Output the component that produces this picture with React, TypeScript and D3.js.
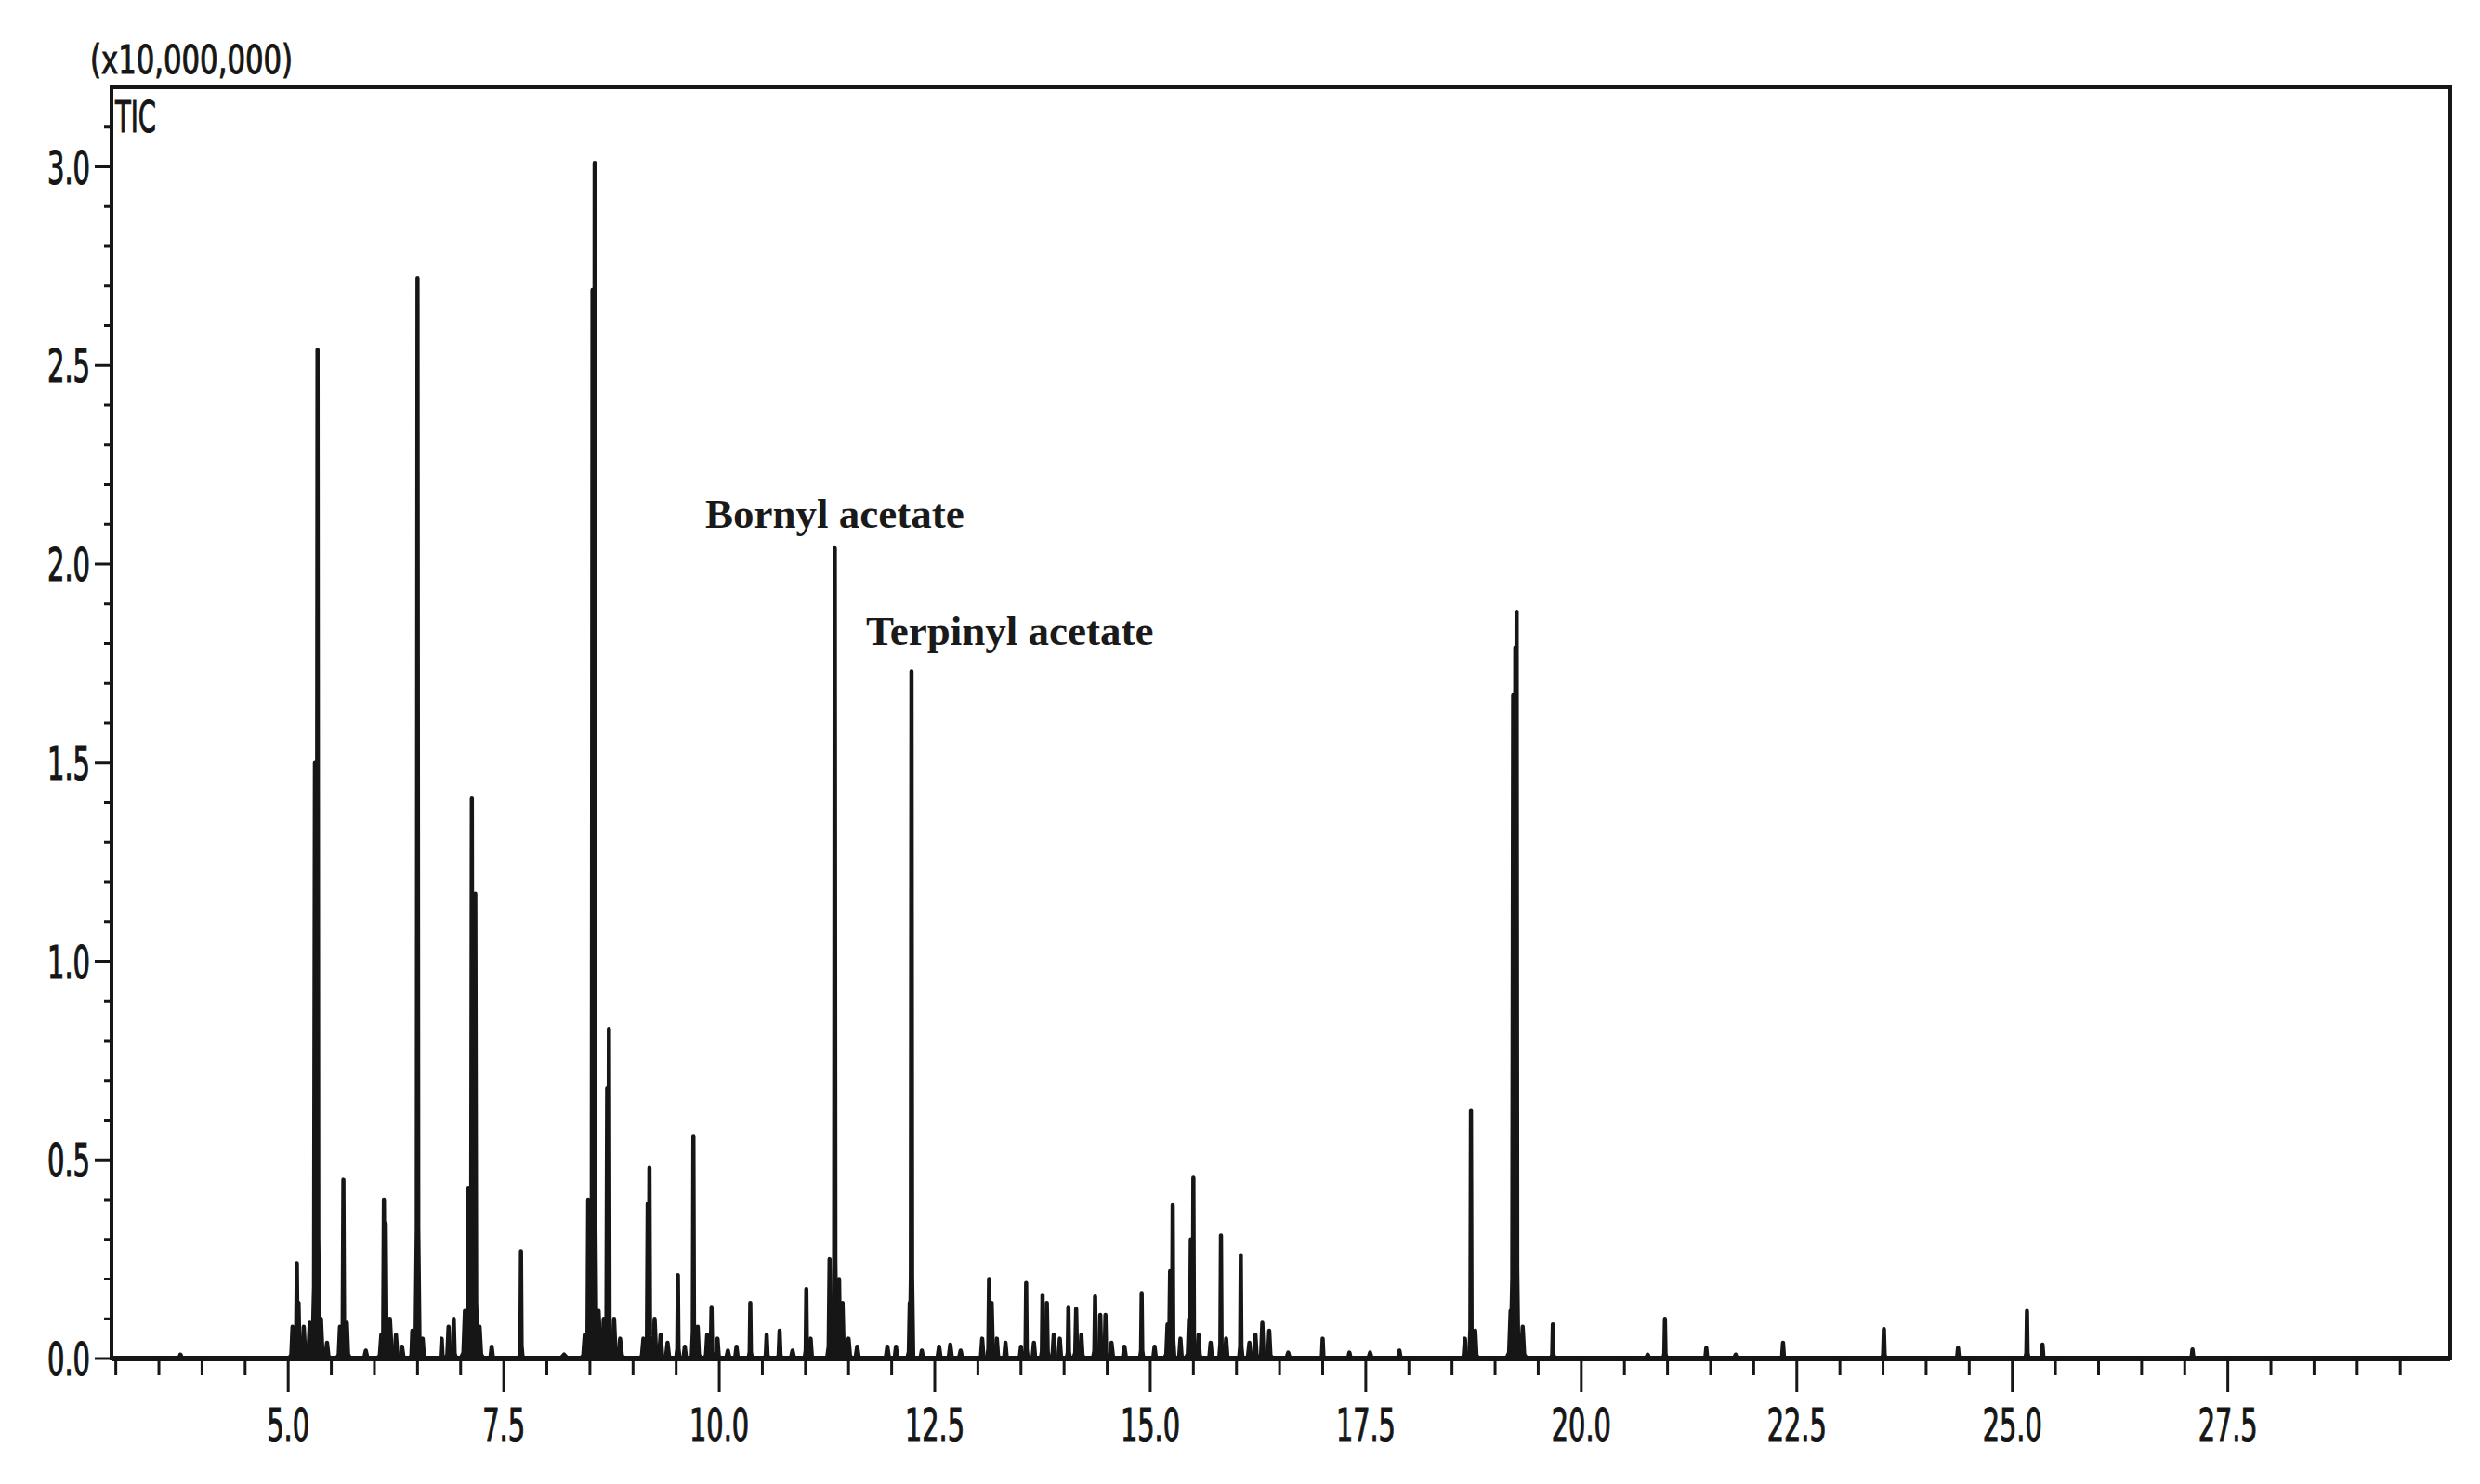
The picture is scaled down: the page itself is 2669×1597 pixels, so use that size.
import React from "react";
import * as d3 from "d3";

// Retention time (min), intensity (x10,000,000), half base width (min)
const peakTimes = [
  3.75, 5.05, 5.10, 5.12, 5.18, 5.25, 5.31, 5.34, 5.38, 5.45, 5.60, 5.64, 5.68, 5.90,
  6.08, 6.11, 6.13, 6.18, 6.25, 6.32, 6.44, 6.50, 6.56, 6.78, 6.86, 6.92, 7.05, 7.09,
  7.13, 7.17, 7.22, 7.36, 7.70, 8.20, 8.44, 8.48, 8.53, 8.555, 8.60, 8.66, 8.70, 8.72,
  8.78, 8.85, 9.12, 9.17, 9.19, 9.25, 9.32, 9.40, 9.52, 9.60, 9.70, 9.75, 9.86, 9.91,
  9.98, 10.10, 10.20, 10.36, 10.55, 10.70, 10.85, 11.01, 11.06, 11.28, 11.34, 11.39,
  11.43, 11.50, 11.60, 11.95, 12.05, 12.21, 12.23, 12.35, 12.55, 12.68, 12.80, 13.05,
  13.13, 13.16, 13.22, 13.32, 13.50, 13.56, 13.65, 13.75, 13.80, 13.88, 13.95, 14.05,
  14.14, 14.20, 14.36, 14.42, 14.48, 14.55, 14.70, 14.90, 15.05, 15.20, 15.23, 15.26,
  15.35, 15.45, 15.47, 15.50, 15.56, 15.70, 15.82, 15.88, 16.05, 16.15, 16.22, 16.30,
  16.38, 16.60, 17.00, 17.31, 17.55, 17.89, 18.65, 18.72, 18.77, 19.18, 19.21, 19.235,
  19.25, 19.32, 19.67, 20.77, 20.97, 21.45, 21.79, 22.34, 23.51, 24.37, 25.17, 25.35,
  27.09,
];
const peakHeights = [
  0.01, 0.08, 0.24, 0.14, 0.08, 0.09, 1.50, 2.54, 0.10, 0.04, 0.08, 0.45, 0.09, 0.02,
  0.06, 0.40, 0.34, 0.10, 0.06, 0.03, 0.07, 2.72, 0.05, 0.05, 0.08, 0.10, 0.12, 0.43,
  1.41, 1.17, 0.08, 0.03, 0.27, 0.01, 0.06, 0.40, 2.69, 3.01, 0.12, 0.10, 0.68, 0.83,
  0.10, 0.05, 0.05, 0.39, 0.48, 0.10, 0.06, 0.04, 0.21, 0.03, 0.56, 0.08, 0.06, 0.13,
  0.05, 0.02, 0.03, 0.14, 0.06, 0.07, 0.02, 0.175, 0.05, 0.25, 2.04, 0.20,
  0.14, 0.05, 0.03, 0.03, 0.03, 0.14, 1.73, 0.02, 0.03, 0.035, 0.02, 0.05,
  0.20, 0.14, 0.05, 0.04, 0.03, 0.19, 0.04, 0.16, 0.14, 0.06, 0.05, 0.13,
  0.125, 0.06, 0.156, 0.11, 0.11, 0.04, 0.03, 0.165, 0.03, 0.086, 0.22, 0.386,
  0.05, 0.10, 0.30, 0.455, 0.06, 0.04, 0.31, 0.05, 0.26, 0.04, 0.06, 0.09,
  0.07, 0.015, 0.05, 0.015, 0.015, 0.02, 0.05, 0.625, 0.07, 0.12, 1.67, 1.79,
  1.88, 0.08, 0.086, 0.01, 0.10, 0.027, 0.01, 0.04, 0.074, 0.027, 0.12, 0.035,
  0.023,
];
const peakWidths = [
  0.05, 0.04, 0.025, 0.03, 0.05, 0.05, 0.03, 0.025, 0.05, 0.05, 0.04, 0.025, 0.04, 0.05,
  0.05, 0.025, 0.03, 0.06, 0.05, 0.05, 0.03, 0.025, 0.04, 0.03, 0.04, 0.03, 0.05, 0.03,
  0.025, 0.03, 0.05, 0.04, 0.02, 0.10, 0.05, 0.025, 0.025, 0.02, 0.06, 0.05, 0.025, 0.02,
  0.05, 0.06, 0.05, 0.025, 0.02, 0.05, 0.05, 0.05, 0.02, 0.04, 0.02, 0.04, 0.04, 0.025,
  0.04, 0.05, 0.04, 0.02, 0.03, 0.03, 0.05, 0.02, 0.04, 0.03, 0.02, 0.03,
  0.04, 0.05, 0.05, 0.05, 0.04, 0.03, 0.02, 0.04, 0.05, 0.05, 0.05, 0.04,
  0.025, 0.04, 0.04, 0.04, 0.04, 0.02, 0.04, 0.02, 0.03, 0.04, 0.04, 0.02,
  0.03, 0.04, 0.025, 0.03, 0.025, 0.05, 0.05, 0.02, 0.04, 0.04, 0.03, 0.02,
  0.04, 0.04, 0.025, 0.02, 0.04, 0.04, 0.02, 0.04, 0.02, 0.05, 0.04, 0.04,
  0.04, 0.05, 0.025, 0.04, 0.05, 0.04, 0.04, 0.02, 0.04, 0.05, 0.03, 0.025,
  0.02, 0.05, 0.02, 0.05, 0.02, 0.03, 0.04, 0.03, 0.025, 0.03, 0.02, 0.03,
  0.03,
];

const xTickValues = [5.0, 7.5, 10.0, 12.5, 15.0, 17.5, 20.0, 22.5, 25.0, 27.5];
const yTickValues = [0.0, 0.5, 1.0, 1.5, 2.0, 2.5, 3.0];
const xDomain = [2.95, 30.08];
const yDomain = [0, 3.2];
const scaleLabel = "(x10,000,000)";
const traceLabel = "TIC";
const annotationLabels = ["Bornyl acetate", "Terpinyl acetate"];
const annotationTimes = [11.34, 12.23];
const annotationHeights = [2.04, 1.73];

const W = 2669;
const H = 1597;
const left = 120;
const right = 2637;
const top = 94;
const bottom = 1462;

export default function App() {
  const x = d3.scaleLinear().domain(xDomain).range([left, right]);
  const y = d3.scaleLinear().domain(yDomain).range([bottom, top]);
  const line = d3
    .line<[number, number]>()
    .x((d) => x(d[0]))
    .y((d) => y(d[1]));

  const minorX = d3.range(3.0, 30.0, 0.5).filter((v) => Math.abs((v / 2.5) - Math.round(v / 2.5)) > 1e-6);
  const minorY = d3.range(0, 3.15, 0.1).filter((v) => Math.abs(v * 2 - Math.round(v * 2)) > 1e-6);

  const tickFont = "'Liberation Sans Narrow', 'DejaVu Sans Condensed', 'Liberation Sans', sans-serif";
  const ink = "#161616";

  const peaks = peakTimes.map((t, i) => {
    const h = peakHeights[i];
    const w = peakWidths[i];
    const pts: [number, number][] = [
      [t - w, 0],
      [t - w * 0.35, h * 0.12],
      [t, h],
      [t + w * 0.35, h * 0.12],
      [t + w, 0],
    ];
    return line(pts) as string;
  });

  const fmt = d3.format(".1f");

  return (
    <svg
      width={W}
      height={H}
      style={{ position: "absolute", left: 0, top: 0, background: "#fff" }}
    >
      <rect x={0} y={0} width={W} height={H} fill="#fff" />
      {/* peaks */}
      <g>
        {peaks.map((d, i) => (
          <path
            key={i}
            d={d}
            fill={ink}
            stroke={ink}
            strokeWidth={4.5}
            strokeLinejoin="round"
          />
        ))}
      </g>
      {/* baseline */}
      <line x1={left} x2={right} y1={bottom} y2={bottom} stroke={ink} strokeWidth={6} />
      {/* frame */}
      <rect
        x={left}
        y={top}
        width={right - left}
        height={bottom - top}
        fill="none"
        stroke={ink}
        strokeWidth={4}
      />
      {/* x ticks */}
      <g stroke={ink} strokeWidth={3}>
        {minorX.map((v) => (
          <line key={"mx" + v} x1={x(v)} x2={x(v)} y1={bottom} y2={bottom + 18} />
        ))}
        {xTickValues.map((v) => (
          <line key={"Mx" + v} x1={x(v)} x2={x(v)} y1={bottom} y2={bottom + 36} />
        ))}
      </g>
      <g fill={ink} stroke={ink} strokeWidth={1.2} fontFamily={tickFont} fontSize={50}>
        {xTickValues.map((v) => {
          const s = fmt(v);
          return (
            <text
              key={"lx" + v}
              x={x(v)}
              y={1551}
              textAnchor="middle"
              textLength={s.length === 3 ? 46 : 64}
              lengthAdjust="spacingAndGlyphs"
            >
              {s}
            </text>
          );
        })}
      </g>
      {/* y ticks */}
      <g stroke={ink} strokeWidth={3}>
        {minorY.map((v) => (
          <line key={"my" + v} x1={left - 8} x2={left} y1={y(v)} y2={y(v)} />
        ))}
        {yTickValues.map((v) => (
          <line key={"My" + v} x1={left - 18} x2={left} y1={y(v)} y2={y(v)} />
        ))}
      </g>
      <g fill={ink} stroke={ink} strokeWidth={1.2} fontFamily={tickFont} fontSize={50}>
        {yTickValues.map((v) => (
          <text
            key={"ly" + v}
            x={97}
            y={y(v) + 18}
            textAnchor="end"
            textLength={46}
            lengthAdjust="spacingAndGlyphs"
          >
            {fmt(v)}
          </text>
        ))}
      </g>
      {/* scale label and trace label */}
      <text
        x={97}
        y={79}
        fill={ink}
        stroke={ink}
        strokeWidth={1}
        fontFamily={tickFont}
        fontSize={42}
        textLength={218}
        lengthAdjust="spacingAndGlyphs"
      >
        {scaleLabel}
      </text>
      <text
        x={124}
        y={142}
        fill={ink}
        stroke={ink}
        strokeWidth={1}
        fontFamily={tickFont}
        fontSize={46}
        textLength={44}
        lengthAdjust="spacingAndGlyphs"
      >
        {traceLabel}
      </text>
      {/* annotations */}
      <g fill="#1a1a1a" fontFamily="'Liberation Serif', 'Times New Roman', serif" fontWeight="bold" fontSize={45}>
        <text x={x(annotationTimes[0])} y={y(annotationHeights[0]) - 22} textAnchor="middle">
          {annotationLabels[0]}
        </text>
        <text x={x(annotationTimes[1]) - 49} y={y(annotationHeights[1]) - 28} textAnchor="start">
          {annotationLabels[1]}
        </text>
      </g>
    </svg>
  );
}
